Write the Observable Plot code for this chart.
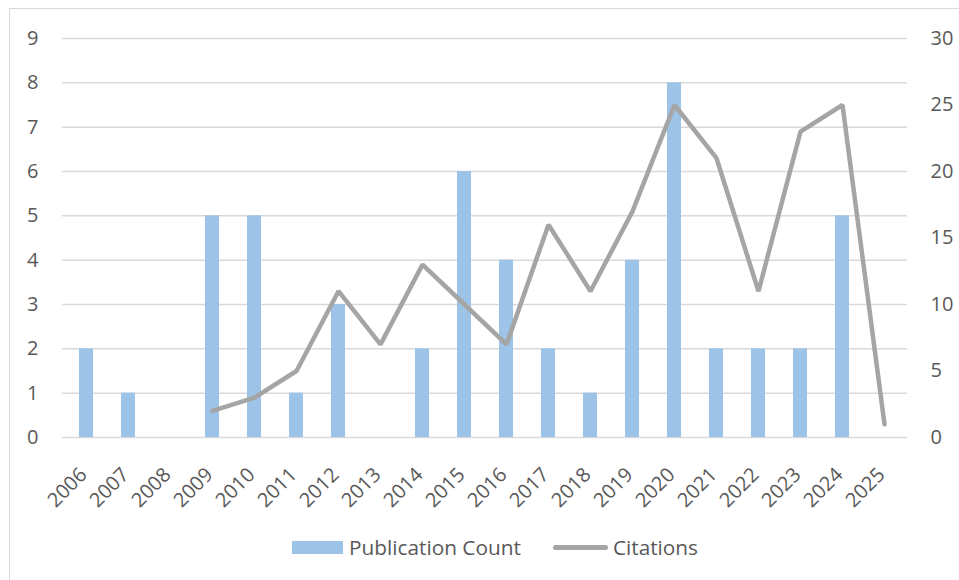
<!DOCTYPE html>
<html>
<head>
<meta charset="utf-8">
<script src="https://cdn.jsdelivr.net/npm/d3@7"></script>
<script src="https://cdn.jsdelivr.net/npm/@observablehq/plot@0.6"></script>
<style>
  html, body { margin: 0; padding: 0; background: #fff; }
  body { width: 959px; height: 580px; position: relative; overflow: hidden; font-family: "Open Sans", sans-serif; }
  #frame { position: absolute; left: 9px; top: 8px; width: 1000px; height: 620px; border: 1.5px solid #d9d9d9; box-sizing: border-box; }
  #chart { position: absolute; left: 0; top: 0; }
  #legend { position: absolute; left: 292px; top: 534px; display: flex; align-items: center; color: #595959; font-size: 20.8px; line-height: 26px; }
  .sw-bar { width: 51px; height: 13px; background: #9DC3E6; margin-right: 6px; }
  .sw-line { width: 55px; height: 5px; background: #A5A5A5; border-radius: 3px; margin-right: 5px; margin-left: 32px; }
</style>
</head>
<body>
<div id="frame"></div>
<div id="chart"></div>
<div id="legend">
  <div class="sw-bar"></div><span>Publication Count</span>
  <div class="sw-line"></div><span>Citations</span>
</div>
<script>
const years = ["2006","2007","2008","2009","2010","2011","2012","2013","2014","2015","2016","2017","2018","2019","2020","2021","2022","2023","2024","2025"];
const publications = [2, 1, 0, 5, 5, 1, 3, 0, 2, 6, 4, 2, 1, 4, 8, 2, 2, 2, 5, 0];
const citationYears = ["2009","2010","2011","2012","2013","2014","2015","2016","2017","2018","2019","2020","2021","2022","2023","2024","2025"];
const citations = [2, 3, 5, 11, 7, 13, 10, 7, 16, 11, 17, 25, 21, 11, 23, 25, 1];
const leftTicks = [0,1,2,3,4,5,6,7,8,9];
const rightTicks = [0,5,10,15,20,25,30];

const barData = years.map((y, i) => ({year: y, count: publications[i]}));
const lineData = citationYears.map((y, i) => ({year: y, citations: citations[i]}));

const y2 = d3.scaleLinear().domain([0, 30]).range([0, 9]);

const chart = Plot.plot({
  width: 959,
  height: 520,
  marginLeft: 62,
  marginRight: 52,
  marginTop: 38,
  marginBottom: 83,
  style: {fontFamily: "Open Sans, sans-serif", fontSize: "20px", color: "#595959", background: "transparent"},
  x: {domain: years, paddingInner: 0.67, paddingOuter: 0.335, label: null},
  y: {domain: [0, 9], label: null},
  marks: [
    Plot.gridY(leftTicks, {stroke: "#d9d9d9", strokeOpacity: 1, strokeWidth: 1.5}),
    Plot.barY(barData, {x: "year", y: "count", fill: "#9DC3E6"}),
    Plot.line(lineData, {x: "year", y: d => y2(d.citations), stroke: "#A5A5A5", strokeWidth: 4.5, strokeLinejoin: "miter", strokeLinecap: "round"}),
    Plot.axisY(leftTicks, {anchor: "left", tickSize: 0, tickPadding: 24, label: null, fill: "#595959"}),
    Plot.axisY(rightTicks, {anchor: "right", y: y2, tickSize: 0, tickPadding: 23, label: null, fill: "#595959", tickFormat: d => d}),
    Plot.axisX({tickSize: 0, tickPadding: 8, dx: -3, dy: 26, tickRotate: -45, label: null, fill: "#595959"})
  ]
});
document.getElementById("chart").appendChild(chart);
</script>
</body>
</html>
